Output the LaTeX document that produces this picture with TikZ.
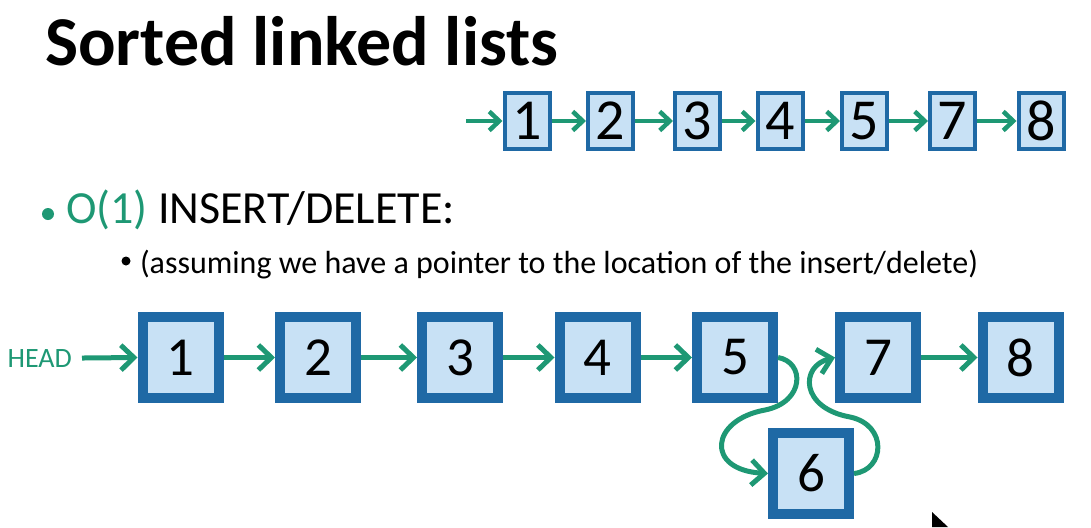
\documentclass[tikz,border=0pt]{standalone}
\usepackage{fontspec}
\setmainfont{Carlito}
\usetikzlibrary{arrows.meta}
\definecolor{grn}{RGB}{30,152,116}
\definecolor{boxblue}{RGB}{31,105,165}
\definecolor{boxfill}{RGB}{200,225,245}
\begin{document}
\begin{tikzpicture}[x=1pt,y=-1pt,
  bigbox/.style={draw=boxblue, fill=boxfill, line width=10pt, minimum width=76pt, minimum height=81pt, inner sep=0pt, outer sep=5pt, font=\fontsize{55}{60}\selectfont},
  smallbox/.style={draw=boxblue, fill=boxfill, line width=4pt, minimum width=45pt, minimum height=56pt, inner sep=0pt, outer sep=2pt, font=\fontsize{58}{60}\selectfont},
  bigarrow/.style={draw=grn, line width=5pt, line join=round, -{Straight Barb[length=13pt,width=25pt]}},
  smallarrow/.style={draw=grn, line width=4.5pt, line join=round, -{Straight Barb[length=10pt,width=19pt]}},
  txt/.style={anchor=base west, inner sep=0pt, outer sep=0pt}
]
\useasboundingbox (0,0) rectangle (1091,527);

% title
\node[txt, font=\fontsize{70}{80}\selectfont\bfseries] (title) at (45,66) {Sorted linked lists};

% top list
\coordinate (tstart) at (466,121);
\node[smallbox] (t1) at (527,121) {1};
\node[smallbox] (t2) at (610.5,121) {2};
\node[smallbox] (t3) at (697.5,121) {3};
\node[smallbox] (t4) at (780,121) {4};
\node[smallbox] (t5) at (864.5,121) {5};
\node[smallbox] (t7) at (952.5,121) {7};
\node[smallbox] (t8) at (1041,121) {8};
\draw[smallarrow] (tstart) -- (t1.west);
\draw[smallarrow] (t1.east) -- (t2.west);
\draw[smallarrow] (t2.east) -- (t3.west);
\draw[smallarrow] (t3.east) -- (t4.west);
\draw[smallarrow] (t4.east) -- (t5.west);
\draw[smallarrow] (t5.east) -- (t7.west);
\draw[smallarrow] (t7.east) -- (t8.west);

% bullets
\fill[grn] (48,214) circle (6pt);
\node[txt, font=\fontsize{46}{50}\selectfont] (l1) at (66,223) {\textcolor{grn}{O(1)} INSERT/DELETE:};
\fill[black] (126,261) circle (4.5pt);
\node[txt, font=\fontsize{32}{36}\selectfont] (l2) at (140,273) {(assuming we have a pointer to the location of the insert/delete)};

% bottom list
\node[anchor=base east, inner sep=0pt, text=grn, font=\fontsize{28}{30}\selectfont] (head) at (72,367) {HEAD};
\node[bigbox] (n1) at (180.5,357.5) {1};
\node[bigbox] (n2) at (318,357.5) {2};
\node[bigbox] (n3) at (460,357.5) {3};
\node[bigbox] (n4) at (597.5,357.5) {4};
\node[bigbox] (n5) at (735,357.5) {5};
\node[bigbox] (n7) at (878,357.5) {7};
\node[bigbox] (n8) at (1020.5,357.5) {8};
\node[bigbox] (n6) at (811,473.5) {6};
\draw[bigarrow] ([xshift=10pt]head.east) -- (n1.west);
\draw[bigarrow] (n1.east) -- (n2.west);
\draw[bigarrow] (n2.east) -- (n3.west);
\draw[bigarrow] (n3.east) -- (n4.west);
\draw[bigarrow] (n4.east) -- (n5.west);
\draw[bigarrow] (n7.east) -- (n8.west);
\draw[bigarrow] (n5.east) .. controls (805,362) and (805,402) .. (765,410) .. controls (710,420) and (705,470) .. (n6.west);
\draw[bigarrow] (n6.east) .. controls (885,470) and (888,425) .. (850,417) .. controls (800,408) and (800,366) .. (n7.west);

% mouse cursor
\fill[black] (932,512) -- (932,527) -- (948,527) -- cycle;
\end{tikzpicture}
\end{document}
